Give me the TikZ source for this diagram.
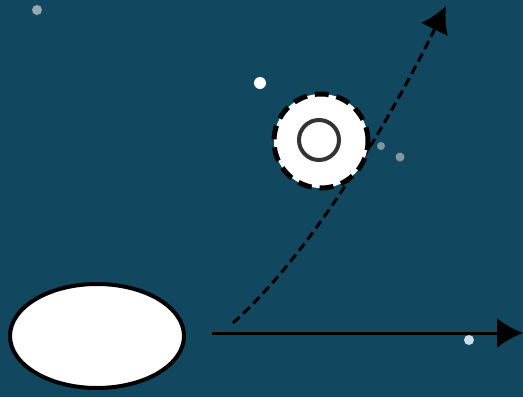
\documentclass[tikz,border=0pt]{standalone}
\usetikzlibrary{arrows.meta,shapes.geometric}
\definecolor{bgteal}{RGB}{18,71,96}
\definecolor{dotgray}{RGB}{150,168,176}
\definecolor{dotlight}{RGB}{205,222,230}
\tikzset{
  dot/.style={circle,inner sep=0pt,minimum size=#1},
  bigarrow/.style={-{Latex[length=26pt,width=30pt]},line width=3pt,black},
}
\begin{document}
\begin{tikzpicture}[x=1pt,y=-1pt]
\fill[color=bgteal] (0,0) rectangle (523,397);
\useasboundingbox (0,0) rectangle (523,397);

\coordinate (hstart) at (212,333);
\coordinate (hend) at (523,333);
\coordinate (cstart) at (233,323);
\coordinate (cend) at (446,6);

\draw[bigarrow] (hstart) -- (hend);
\draw[bigarrow,dash pattern=on 9pt off 5pt] (cstart) .. controls (315,250) and (395,110) .. (cend);

\node[ellipse,draw=black,line width=4pt,fill=white,minimum width=174pt,minimum height=104pt,inner sep=0pt] (blob) at (97,336) {};
\node[circle,draw=black,line width=5pt,dash pattern=on 14pt off 8pt,fill=white,minimum size=94pt,inner sep=0pt] (ring) at (321,141) {};
\node[circle,draw=black!80,line width=4pt,minimum size=40pt,inner sep=0pt] (core) at (319,140) {};

\node[dot=10pt,fill=dotgray] (d1) at (37,10) {};
\node[dot=12pt,fill=white] (d2) at (260,83) {};
\node[dot=8pt,fill=dotgray!80!bgteal] (d3) at (381,146) {};
\node[dot=9pt,fill=dotgray!85!bgteal] (d4) at (400,157) {};
\node[dot=10pt,fill=dotlight] (d5) at (469,340) {};
\end{tikzpicture}
\end{document}
